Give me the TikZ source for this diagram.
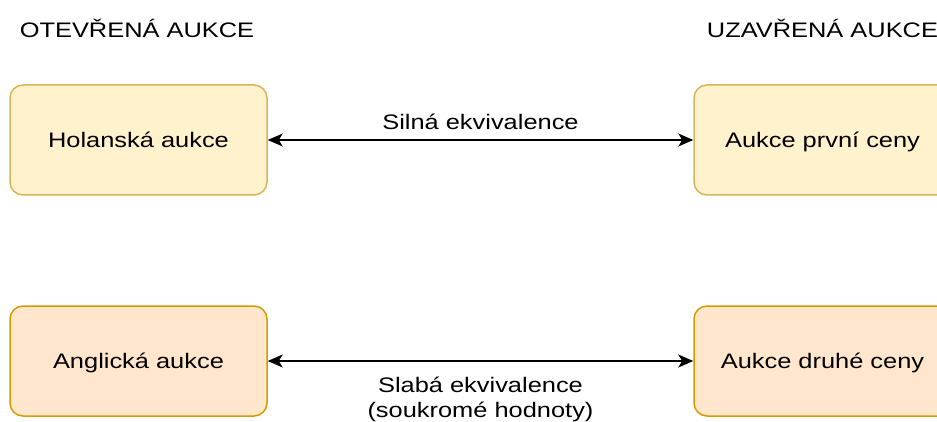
\documentclass[tikz,border=0pt]{standalone}
\usepackage{fontspec}
\setmainfont{Liberation Sans}[FakeStretch=1.21]
\usetikzlibrary{arrows.meta}
\definecolor{ylfill}{HTML}{FFF2CC}
\definecolor{yldraw}{HTML}{D6B656}
\definecolor{orfill}{HTML}{FFE6CC}
\definecolor{ordraw}{HTML}{D79B00}
\begin{document}
\begin{tikzpicture}[x=1pt,y=-1pt,
  txt/.style={font=\fontsize{21}{24.5}\selectfont, inner sep=0pt, text=black},
  box/.style={txt, rounded corners=13pt, line width=1.5pt, minimum width=257pt,
    minimum height=110pt, text height=15.3pt, text depth=0pt},
  ybox/.style={box, fill=ylfill, draw=yldraw},
  obox/.style={box, fill=orfill, draw=ordraw},
  conn/.style={line width=1.3pt, {Stealth[length=15pt,width=13pt,inset=4pt]}-{Stealth[length=15pt,width=13pt,inset=4pt]}},
  lbl/.style={txt, align=center}
]
\clip (0,0) rectangle (937,422);
\node[txt, anchor=base] (t1) at (137,38) {OTEVŘENÁ AUKCE};
\node[txt, anchor=base] (t2) at (822.5,38) {UZAVŘENÁ AUKCE};
\node[ybox] (hol) at (138.5,140) {Holanská aukce};
\node[ybox] (prv) at (822.5,140) {Aukce první ceny};
\node[obox] (ang) at (138.5,361) {Anglická aukce};
\node[obox] (dru) at (822.5,361) {Aukce druhé ceny};
\draw[conn] (hol) -- node[lbl, anchor=base, yshift=10pt] (l1) {Silná ekvivalence} (prv);
\draw[conn] (ang) -- node[lbl, anchor=base, yshift=-56pt] (l2) {Slabá ekvivalence\\(soukromé hodnoty)} (dru);
\end{tikzpicture}
\end{document}
